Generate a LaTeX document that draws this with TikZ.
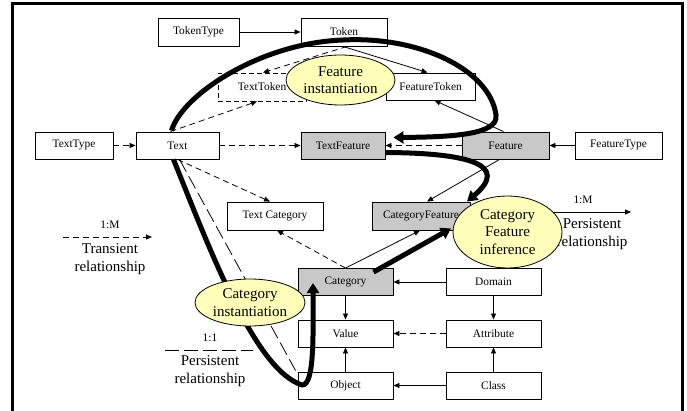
\documentclass[tikz,border=0pt]{standalone}
\usepackage{fontspec}
\setmainfont{Liberation Serif}
\usetikzlibrary{arrows.meta,shapes.geometric}
\definecolor{boxgray}{RGB}{200,200,200}
\definecolor{ellyellow}{RGB}{255,255,185}
\newcommand\boxfont{\fontsize{11.4}{13}\selectfont}
\newcommand\ellfont{\fontsize{15}{17.5}\selectfont}
\begin{document}
\begin{tikzpicture}[x=1pt,y=-1pt,
  box/.style={draw, line width=0.9pt, inner sep=0pt, minimum height=27pt, font=\boxfont},
  gbox/.style={box, fill=boxgray},
  ell/.style={ellipse, draw, line width=0.8pt, fill=ellyellow, inner sep=0pt, font=\ellfont, align=center},
  solidarr/.style={line width=0.8pt, -{Triangle[length=6pt,width=5pt]}},
  dsh/.style={solidarr, dash pattern=on 6pt off 4pt},
  longdsh/.style={line width=0.8pt, dash pattern=on 14pt off 5pt},
  heavy/.style={line width=5pt, -{Triangle[length=10pt,width=12pt]}},
  legtext/.style={font=\ellfont, align=center},
  smalltext/.style={font=\boxfont}
]
\useasboundingbox (0,0) rectangle (687,411);
% frame
\draw[line width=3pt] (12,440) -- (12,4) -- (682,4) -- (682,440);

% boxes
\node[box, minimum width=81pt, minimum height=28pt] (TokenType) at (198.5,32) {TokenType};
\node[box, minimum width=86pt, minimum height=28pt] (Token) at (344,32) {Token};
\node[box, dashed, dash pattern=on 5pt off 3pt, minimum width=88pt, minimum height=28pt] (TextToken) at (262,87) {TextToken};
\node[box, minimum width=89pt] (FeatureToken) at (430.5,86.5) {FeatureToken};
\node[box, minimum width=78pt] (TextType) at (74,145.5) {TextType};
\node[box, minimum width=83pt] (Text) at (177.5,145.5) {Text};
\node[gbox, minimum width=84pt] (TextFeature) at (343,145.5) {TextFeature};
\node[gbox, minimum width=87pt] (Feature) at (505.5,145.5) {Feature};
\node[box, minimum width=87pt] (FeatureType) at (618.5,145.5) {FeatureType};
\node[box, minimum width=96pt, minimum height=28pt] (TextCategory) at (275,216) {Text Category};
\node[gbox, minimum width=98pt, minimum height=28pt] (CategoryFeature) at (421,216) {CategoryFeature};
\node[gbox, minimum width=95pt] (Category) at (345.5,282) {Category};
\node[box, minimum width=95pt] (Value) at (345.5,333.5) {Value};
\node[box, minimum width=95pt] (Object) at (345.5,385.5) {Object};
\node[box, minimum width=95pt] (Domain) at (493.5,282) {Domain};
\node[box, minimum width=95pt] (Attribute) at (493.5,333.5) {Attribute};
\node[box, minimum width=95pt] (Class) at (493.5,385.5) {Class};

% thin connectors
\draw[solidarr] (TokenType) -- (Token);
\draw[dsh] (TextType) -- (Text);
\draw[dsh] (Text) -- (TextFeature);
\draw[dsh] (Feature) -- (TextFeature);
\draw[solidarr] (FeatureType) -- (Feature);
\draw[dsh] ([xshift=3pt]Token.south) -- ([xshift=1pt]TextToken.north);
\draw[solidarr] ([xshift=-1pt]Token.south) -- ([xshift=-3pt]FeatureToken.north);
\draw[dsh] ([xshift=-7pt]Text.north) -- ([xshift=-5pt]TextToken.south);
\draw[solidarr] ([xshift=-2pt]Feature.north) -- ([xshift=4pt]FeatureToken.south);
\draw[dsh] (Text.south) -- ([xshift=-5pt]TextCategory.north);
\draw[dsh] (Category.north) -- ([xshift=2pt]TextCategory.south);
\draw[solidarr] (Category.north) -- ([xshift=-1pt]CategoryFeature.south);
\draw[solidarr] ([xshift=-6pt]Feature.south) -- ([xshift=6pt]CategoryFeature.north);
\draw[longdsh] ([xshift=2pt]Text.south) -- ([xshift=-2pt,yshift=1pt]Object.north west);
\draw[solidarr] (Category) -- (Value);
\draw[solidarr] (Object) -- (Value);
\draw[solidarr] (Domain) -- (Category);
\draw[solidarr] (Domain) -- (Attribute);
\draw[dsh] (Attribute) -- (Value);
\draw[solidarr] (Class) -- (Attribute);
\draw[solidarr] (Class) -- (Object);

% legends
\node[smalltext] (lgA) at (110,225) {1:M};
\coordinate (lgAs) at (63,237);
\coordinate (lgAe) at (152,237);
\draw[dsh] (lgAs) -- (lgAe);
\node[legtext] (lgAt) at (110,259) {Transient\\relationship};

\node[smalltext] (lgB) at (210,338) {1:1};
\coordinate (lgBs) at (165,350);
\coordinate (lgBe) at (253,350);
\draw[longdsh] (lgBs) -- (lgBe);
\node[legtext] (lgBt) at (210,371) {Persistent\\relationship};

\node[smalltext] (lgC) at (583,200) {1:M};
\coordinate (lgCs) at (550,212);
\coordinate (lgCe) at (631,212);
\draw[solidarr] (lgCs) -- (lgCe);
\node[legtext] (lgCt) at (592,234) {Persistent\\relationship};

% heavy curves
\draw[heavy] ([xshift=-6pt,yshift=1pt]Text.north) .. controls (182,95) and (260,43) .. (343,40)
  .. controls (420,36) and (490,70) .. (496,115)
  .. controls (499,135) and (450,137) .. ([xshift=8pt,yshift=8pt]TextFeature.east);
\draw[heavy] ([yshift=-7pt]TextFeature.east) .. controls (470,153) and (510,165) .. ([xshift=46pt]CategoryFeature.north);
\draw[heavy] ([xshift=28pt,yshift=-4pt]Category.north) -- ([xshift=30pt,yshift=2pt]CategoryFeature.south);
\draw[heavy] ([xshift=-4pt]Text.south) .. controls (210,250) and (255,370) .. (302,385)
  .. controls (315,386) and (313,330) .. ([xshift=-32.5pt,yshift=-1pt]Category.center);

% ellipses
\node[ell, minimum width=109pt, minimum height=50pt] (FI) at (340.5,80) {Feature\\instantiation};
\node[ell, minimum width=110pt, minimum height=47pt] (CI) at (250,302.5) {Category\\instantiation};
\node[ell, minimum width=109pt, minimum height=72pt] (CFI) at (507.5,232) {Category\\Feature\\inference};
\end{tikzpicture}
\end{document}
